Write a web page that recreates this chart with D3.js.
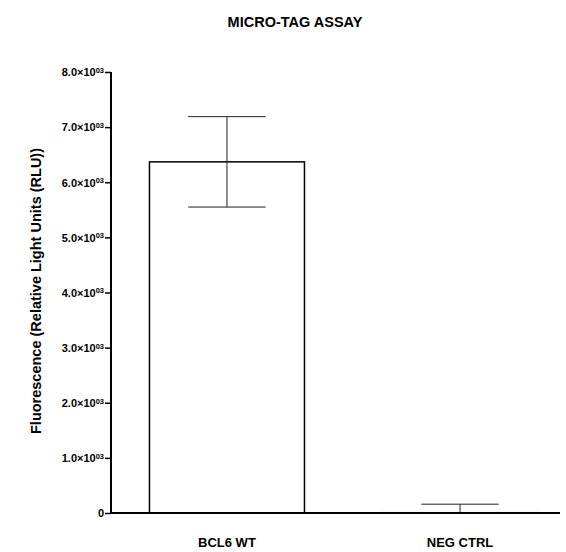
<!DOCTYPE html>
<meta charset="utf-8">
<script src="https://cdn.jsdelivr.net/npm/d3@7"></script>
<style>
body { margin: 0; background: #fff; }
text { font-family: "Liberation Sans", Arial, sans-serif; font-weight: bold; fill: #000; }
.bar { fill: #fff; stroke: #000; stroke-width: 1.5px; }
.err { stroke: #222; stroke-width: 1px; fill: none; }
</style>
<body>
<script>

var categories = ["BCL6 WT", "NEG CTRL"];
var means = [6370, 5];
var errors = [820, 155];
var yTicks = [0, 1000, 2000, 3000, 4000, 5000, 6000, 7000, 8000];

var width = 566, height = 552;

var svg = d3.select("body").append("svg")
    .attr("width", width)
    .attr("height", height);

var x = d3.scaleBand()
    .domain(categories)
    .range([111, 576])
    .paddingInner(0.335)
    .paddingOuter(0.165);

var y = d3.scaleLinear()
    .domain([0, 8000])
    .range([513, 72]);

// title
svg.append("text")
    .attr("x", 295).attr("y", 27)
    .attr("text-anchor", "middle")
    .style("font-size", "14.5px")
    .text("MICRO-TAG ASSAY");

// y label
svg.append("text")
    .attr("transform", "translate(41," + 291 + ") rotate(-90)")
    .attr("text-anchor", "middle")
    .style("font-size", "14.5px")
    .text("Fluorescence (Relative Light Units (RLU))");

// bars
svg.selectAll("rect.bar")
    .data(categories)
    .enter().append("rect")
    .attr("class", "bar")
    .attr("x", function(d) { return x(d); })
    .attr("width", x.bandwidth())
    .attr("y", function(d, i) { return y(means[i]); })
    .attr("height", function(d, i) { return y(0) - y(means[i]); });

// error bars
var capW = x.bandwidth() / 2;
var eb = svg.selectAll("g.eb")
    .data(categories)
    .enter().append("g");

eb.append("line").attr("class", "err")
    .attr("x1", function(d) { return x(d) + x.bandwidth() / 2; })
    .attr("x2", function(d) { return x(d) + x.bandwidth() / 2; })
    .attr("y1", function(d, i) { return y(Math.max(0, means[i] - errors[i])); })
    .attr("y2", function(d, i) { return y(means[i] + errors[i]); });

eb.append("line").attr("class", "err")
    .attr("x1", function(d) { return x(d) + x.bandwidth() / 2 - capW / 2; })
    .attr("x2", function(d) { return x(d) + x.bandwidth() / 2 + capW / 2; })
    .attr("y1", function(d, i) { return y(means[i] + errors[i]); })
    .attr("y2", function(d, i) { return y(means[i] + errors[i]); });

eb.filter(function(d, i) { return means[i] - errors[i] > 0; })
  .append("line").attr("class", "err")
    .attr("x1", function(d) { return x(d) + x.bandwidth() / 2 - capW / 2; })
    .attr("x2", function(d) { return x(d) + x.bandwidth() / 2 + capW / 2; })
    .attr("y1", function(d, i) { return y(means[i] - errors[i]); })
    .attr("y2", function(d, i) { return y(means[i] - errors[i]); });

// y axis
var yAxis = svg.append("g")
    .attr("transform", "translate(111,0)")
    .call(d3.axisLeft(y).tickValues(yTicks).tickSize(6).tickPadding(1)
        .tickFormat(function(d) { return d; }));

yAxis.select(".domain").attr("stroke-width", 2).attr("d", "M0," + y(8000) + "V" + y(0));
yAxis.selectAll(".tick line").attr("stroke-width", 1.5);
yAxis.selectAll(".tick text").each(function(d) {
  var t = d3.select(this).text(null)
      .style("font-size", "11px")
      .attr("dy", "0.35em");
  if (d === 0) { t.text("0"); return; }
  t.append("tspan").text((d / 1000).toFixed(1) + "\u00d710");
  t.append("tspan").attr("dy", "-0.45em").style("font-size", "7.5px").text("03");
});

// x axis line
svg.append("line")
    .attr("x1", 110).attr("x2", 560)
    .attr("y1", y(0)).attr("y2", y(0))
    .attr("stroke", "#000").attr("stroke-width", 2);

// category labels
svg.selectAll("text.cat")
    .data(categories)
    .enter().append("text")
    .attr("class", "cat")
    .attr("x", function(d) { return x(d) + x.bandwidth() / 2; })
    .attr("y", 547)
    .attr("text-anchor", "middle")
    .style("font-size", "13px")
    .text(function(d) { return d; });

</script>
</body>
